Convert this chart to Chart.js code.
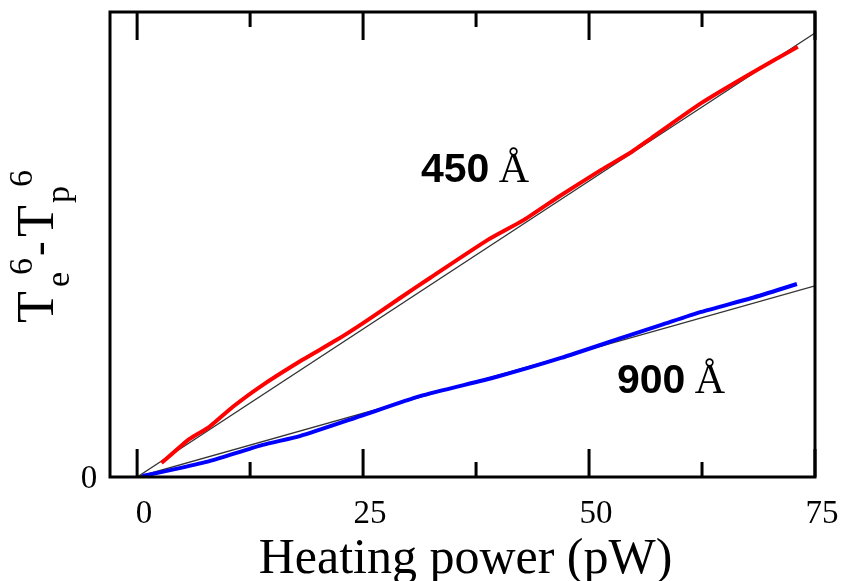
<!DOCTYPE html>
<html>
<head>
<meta charset="utf-8">
<script src="https://cdn.jsdelivr.net/npm/chart.js@4"></script>
<style>
  html, body { margin: 0; padding: 0; background: #fff; }
  #wrap { width: 844px; height: 581px; }
</style>
</head>
<body>
<div id="wrap"><canvas id="chart" width="844" height="581"></canvas></div>
<script>
// Data
const red450X = [2.7, 5.8, 8.0, 10.6, 13.6, 18.3, 22.1, 25.0, 29.1, 32.4, 38.8, 42.8, 46.9, 51.3, 54.7, 56.9, 62.4, 68.0, 73.1];
const red450Y = [0.030, 0.082, 0.108, 0.151, 0.194, 0.252, 0.295, 0.331, 0.385, 0.428, 0.510, 0.553, 0.606, 0.660, 0.699, 0.729, 0.804, 0.869, 0.925];
const blue900X = [0.6, 4.7, 8.0, 13.9, 18.0, 24.7, 31.3, 39.7, 46.9, 53.6, 58.0, 62.4, 68.0, 73.0];
const blue900Y = [0.002, 0.019, 0.034, 0.069, 0.088, 0.131, 0.174, 0.215, 0.256, 0.299, 0.327, 0.355, 0.385, 0.415];
const fit450X = [0, 75];
const fit450Y = [0, 0.955];
const fit900X = [0, 75];
const fit900Y = [0, 0.411];

const xMajorTicks = [0, 25, 50, 75];
const xMinorTicks = [12.5, 37.5, 62.5];
const yTickLabels = [0];

const pts = (xs, ys) => xs.map((x, i) => ({ x: x, y: ys[i] }));

// Frame, ticks, labels, titles
const decor = {
  id: 'decor',
  afterDraw(chart) {
    const ctx = chart.ctx;
    const a = chart.chartArea;
    const xs = chart.scales.x, ys = chart.scales.y;
    ctx.save();
    ctx.strokeStyle = '#000';
    ctx.fillStyle = '#000';

    // frame
    ctx.lineWidth = 3;
    ctx.strokeRect(a.left, a.top, a.right - a.left, a.bottom - a.top);

    // ticks (inward, top and bottom)
    const tick = (v, len) => {
      const px = xs.getPixelForValue(v);
      ctx.beginPath();
      ctx.moveTo(px, a.bottom); ctx.lineTo(px, a.bottom - len);
      ctx.moveTo(px, a.top); ctx.lineTo(px, a.top + len);
      ctx.stroke();
    };
    xMajorTicks.forEach(v => tick(v, 28));
    xMinorTicks.forEach(v => tick(v, 15));

    // tick labels
    ctx.font = '33px "Liberation Serif", serif';
    ctx.textAlign = 'center';
    ctx.textBaseline = 'alphabetic';
    xMajorTicks.forEach(v => ctx.fillText(String(v), xs.getPixelForValue(v) + 7, a.bottom + 46));
    yTickLabels.forEach(v => ctx.fillText(String(v), a.left - 21, ys.getPixelForValue(v) + 11));

    // x title
    ctx.font = '50px "Liberation Serif", serif';
    ctx.fillText('Heating power (pW)', (a.left + a.right) / 2 + 3, 573);

    // y title, rotated
    ctx.save();
    ctx.translate(53, 323);
    ctx.rotate(-Math.PI / 2);
    ctx.textAlign = 'left';
    const part = (txt, size, x, dy) => {
      ctx.font = size + 'px "Liberation Serif", serif';
      ctx.fillText(txt, x, dy);
    };
    part('T', 52, 0, 0);
    part('e', 34, 36, 16);
    part('6', 34, 48, -21);
    part('-', 44, 67, 0);
    part('T', 52, 86, 0);
    part('p', 34, 120, 16);
    part('6', 34, 136, -21);
    ctx.restore();

    // annotations
    const note = (num, x, y) => {
      ctx.textAlign = 'left';
      ctx.font = 'bold 41px "Liberation Sans", Arial, sans-serif';
      ctx.fillText(num + ' ', x, y);
      const w = ctx.measureText(num + ' ').width;
      ctx.font = '42px "Liberation Serif", serif';
      ctx.fillText('\u00C5', x + w - 2, y);
    };
    note('450', 421, 182);
    note('900', 617, 393);

    ctx.restore();
  }
};

new Chart(document.getElementById('chart'), {
  type: 'scatter',
  data: {
    datasets: [
      { data: pts(red450X, red450Y), showLine: true, borderColor: '#ff0000', borderWidth: 4, pointRadius: 0, tension: 0.2, order: 1 },
      { data: pts(blue900X, blue900Y), showLine: true, borderColor: '#0000ff', borderWidth: 4, pointRadius: 0, tension: 0.2, order: 1 },
      { data: pts(fit450X, fit450Y), showLine: true, borderColor: '#333', borderWidth: 1.3, pointRadius: 0, order: 2 },
      { data: pts(fit900X, fit900Y), showLine: true, borderColor: '#333', borderWidth: 1.3, pointRadius: 0, order: 2 }
    ]
  },
  options: {
    responsive: false,
    animation: false,
    layout: { padding: { left: 110, right: 29, top: 12, bottom: 104 } },
    plugins: { legend: { display: false }, tooltip: { enabled: false } },
    scales: {
      x: { type: 'linear', min: -3, max: 75, display: false },
      y: { type: 'linear', min: 0, max: 1, display: false }
    }
  },
  plugins: [decor]
});
</script>
</body>
</html>
